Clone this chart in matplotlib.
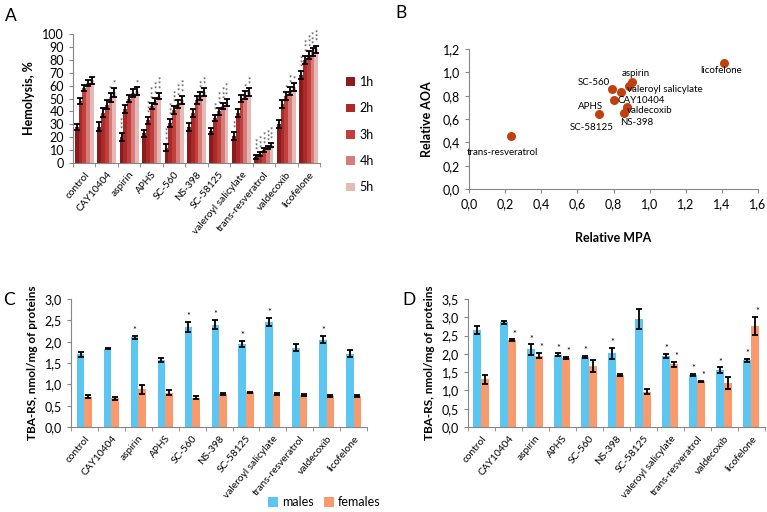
import matplotlib.pyplot as plt
import numpy as np
from matplotlib.ticker import FuncFormatter

plt.rcParams['font.family'] = ['Lato', 'DejaVu Sans']

compounds = ['control', 'CAY10404', 'aspirin', 'APHS', 'SC-560', 'NS-398', 'SC-58125',
             'valeroyl salicylate', 'trans-resveratrol', 'valdecoxib', 'licofelone']
hours = ['1h', '2h', '3h', '4h', '5h']

# panel A: hemolysis, % per hour
hem_1h = [28, 28, 20, 23, 12, 28, 25, 21, 5, 30, 68]
hem_2h = [48, 39, 42, 33, 31, 39, 35, 39, 7, 46, 80]
hem_3h = [58, 45, 50, 44, 41, 49, 40, 50, 10, 52, 84]
hem_4h = [62, 51, 54, 48, 46, 52, 44, 53, 12, 56, 86]
hem_5h = [64, 55, 56, 52, 49, 55, 47, 55, 14, 59, 88]
hem_err = [2.5, 3.5, 3, 2.5, 3, 3, 2.5, 3, 1.5, 3, 3]
hem_stars_1h = [0, 0, 3, 0, 3, 0, 0, 2, 3, 0, 3]
hem_stars_2h = [0, 0, 0, 3, 3, 0, 2, 0, 3, 0, 3]
hem_stars_3h = [0, 0, 0, 3, 3, 0, 3, 0, 3, 1, 3]
hem_stars_4h = [0, 1, 0, 3, 3, 2, 3, 1, 3, 2, 3]
hem_stars_5h = [0, 1, 1, 3, 3, 2, 3, 2, 3, 1, 3]

# panel B: relative MPA vs relative AOA
b_labels = ['trans-resveratrol', 'SC-58125', 'APHS', 'SC-560', 'CAY10404', 'NS-398',
            'valdecoxib', 'valeroyl salicylate', 'aspirin', 'licofelone']
b_mpa = [0.23, 0.72, 0.84, 0.79, 0.80, 0.86, 0.875, 0.885, 0.90, 1.41]
b_aoa = [0.455, 0.645, 0.83, 0.855, 0.76, 0.65, 0.70, 0.88, 0.92, 1.08]

# panel C: TBA-RS
c_males = [1.70, 1.84, 2.10, 1.57, 2.35, 2.40, 1.94, 2.46, 1.86, 2.05, 1.72]
c_males_err = [0.05, 0.02, 0.04, 0.04, 0.12, 0.10, 0.07, 0.09, 0.09, 0.08, 0.08]
c_females = [0.71, 0.67, 0.88, 0.80, 0.69, 0.77, 0.81, 0.77, 0.75, 0.73, 0.72]
c_females_err = [0.03, 0.04, 0.10, 0.06, 0.03, 0.02, 0.01, 0.02, 0.02, 0.02, 0.02]
c_males_sig = [0, 0, 1, 0, 1, 1, 1, 1, 0, 1, 0]
c_females_sig = [0] * 11

# panel D: TBA-RS
d_males = [2.65, 2.86, 2.12, 1.98, 1.91, 2.01, 2.95, 1.94, 1.42, 1.55, 1.82]
d_males_err = [0.12, 0.03, 0.14, 0.03, 0.03, 0.16, 0.27, 0.06, 0.03, 0.08, 0.04]
d_females = [1.30, 2.37, 1.95, 1.89, 1.66, 1.42, 0.97, 1.71, 1.25, 1.20, 2.76]
d_females_err = [0.12, 0.03, 0.07, 0.03, 0.16, 0.02, 0.08, 0.08, 0.02, 0.16, 0.25]
d_males_sig = [0, 0, 1, 1, 1, 1, 0, 1, 1, 1, 1]
d_females_sig = [0, 1, 1, 1, 0, 0, 0, 1, 1, 0, 1]

comma = FuncFormatter(lambda v, p: f'{v:.1f}'.replace('.', ','))
spine_col = '#868686'


def style_axes(ax):
    for s in ['top', 'right']:
        ax.spines[s].set_visible(False)
    for s in ['left', 'bottom']:
        ax.spines[s].set_color(spine_col)
    ax.tick_params(colors=spine_col, labelcolor='black', length=3, width=0.8)


def category_axis(ax, n):
    ax.set_xlim(-0.5, n - 0.5)
    ax.set_xticks(np.arange(n))
    ax.set_xticklabels(compounds, rotation=50, ha='right', rotation_mode='anchor', fontsize=7.3)
    ax.tick_params(axis='x', length=0, pad=5)
    ax.set_xticks(np.arange(n + 1) - 0.5, minor=True)
    ax.tick_params(axis='x', which='minor', length=3, colors=spine_col)


fig = plt.figure(figsize=(7.67, 5.12), dpi=100)

# ---------- A ----------
axA = fig.add_axes([0.0952, 0.6816, 0.322, 0.252])
style_axes(axA)
x = np.arange(len(compounds))
hem_series = [hem_1h, hem_2h, hem_3h, hem_4h, hem_5h]
hem_stars = [hem_stars_1h, hem_stars_2h, hem_stars_3h, hem_stars_4h, hem_stars_5h]
a_colors = ['#8c1c1c', '#a92a28', '#c2403c', '#d67d7b', '#e6b8b6']
w = 0.17
for i, (vals, col, lab) in enumerate(zip(hem_series, a_colors, hours)):
    xs = x + (i - 2) * w
    axA.bar(xs, vals, w, color=col, label=lab)
    axA.errorbar(xs, vals, yerr=hem_err, fmt='none', ecolor='black', elinewidth=1.3,
                 capsize=2.5, capthick=1.3)
    for xi, v, e, n in zip(xs, vals, hem_err, hem_stars[i]):
        if n:
            axA.text(xi, v + e + 0.5, '\n'.join(['*'] * n), ha='center', va='bottom',
                     fontsize=5.5, linespacing=0.55, color='#333333')
axA.set_ylim(0, 100)
axA.set_yticks(range(0, 101, 10))
axA.tick_params(axis='y', labelsize=9)
category_axis(axA, len(compounds))
axA.set_ylabel('Hemolysis, %', fontsize=9, fontweight='bold', labelpad=5)
axA.legend(loc='center left', bbox_to_anchor=(1.06, 0.22), frameon=False, fontsize=9,
           handlelength=0.7, handleheight=0.7, labelspacing=1.15, handletextpad=0.4)

# ---------- B ----------
axB = fig.add_axes([0.6115, 0.6309, 0.3768, 0.273])
style_axes(axB)
axB.scatter(b_mpa, b_aoa, s=30, color='#c0400e', zorder=3)
offsets = {
    'trans-resveratrol': (-6, -12, 'center'),
    'SC-58125': (-5, -10, 'center'),
    'APHS': (-22, -10, 'center'),
    'SC-560': (-1, 5, 'right'),
    'CAY10404': (3, 0, 'left'),
    'NS-398': (9, -7, 'center'),
    'valdecoxib': (0, -2, 'left'),
    'valeroyl salicylate': (-1, -2, 'left'),
    'aspirin': (3, 6, 'center'),
    'licofelone': (-2, -5, 'center'),
}
for lab, xv, yv in zip(b_labels, b_mpa, b_aoa):
    dx, dy, ha = offsets[lab]
    axB.annotate(lab, (xv, yv), xytext=(dx, dy), textcoords='offset points',
                 ha=ha, va='center', fontsize=7)
axB.set_xlim(0, 1.6)
axB.set_ylim(0, 1.2)
axB.set_xticks(np.arange(0, 1.61, 0.2))
axB.set_yticks(np.arange(0, 1.21, 0.2))
axB.xaxis.set_major_formatter(comma)
axB.yaxis.set_major_formatter(comma)
axB.tick_params(labelsize=9)
axB.set_xlabel('Relative MPA', fontsize=9, fontweight='bold', labelpad=16)
axB.set_ylabel('Relative AOA', fontsize=9, fontweight='bold', labelpad=7)

# ---------- C and D ----------
male_col = '#5bc6f2'
female_col = '#f89a6c'


def tba_panel(rect, males, m_err, females, f_err, m_sig, f_sig, ymax, bw):
    ax = fig.add_axes(rect)
    style_axes(ax)
    xs = np.arange(len(compounds))
    ax.bar(xs - bw / 2, males, bw, color=male_col, label='males')
    ax.bar(xs + bw / 2, females, bw, color=female_col, label='females')
    ax.errorbar(xs - bw / 2, males, yerr=m_err, fmt='none', ecolor='black',
                elinewidth=1.3, capsize=2.5, capthick=1.3)
    ax.errorbar(xs + bw / 2, females, yerr=f_err, fmt='none', ecolor='black',
                elinewidth=1.3, capsize=2.5, capthick=1.3)
    for xi, v, e, s in zip(xs - bw / 2, males, m_err, m_sig):
        if s:
            ax.text(xi, v + e + 0.02, '*', ha='center', va='bottom', fontsize=6.5)
    for xi, v, e, s in zip(xs + bw / 2, females, f_err, f_sig):
        if s:
            ax.text(xi + 0.06, v + e + 0.02, '*', ha='center', va='bottom', fontsize=6.5)
    ax.set_ylim(0, ymax)
    ax.set_yticks(np.arange(0, ymax + 0.01, 0.5))
    ax.yaxis.set_major_formatter(comma)
    ax.tick_params(axis='y', labelsize=9)
    category_axis(ax, len(compounds))
    ax.set_ylabel('TBA-RS, nmol/mg of proteins', fontsize=8.5, fontweight='bold', labelpad=5)
    return ax


axC = tba_panel([0.0926, 0.166, 0.386, 0.25], c_males, c_males_err, c_females,
                c_females_err, c_males_sig, c_females_sig, 3.0, 0.28)
axD = tba_panel([0.610, 0.166, 0.387, 0.25], d_males, d_males_err, d_females,
                d_females_err, d_males_sig, d_females_sig, 3.5, 0.3)

handles, labels = axC.get_legend_handles_labels()
fig.legend(handles, labels, loc='lower left', bbox_to_anchor=(0.335, -0.015), ncol=2,
           frameon=False, fontsize=9, handlelength=0.8, handleheight=0.8,
           handletextpad=0.3, columnspacing=0.8)

for lab, (px, py) in zip('ABCD', [(0.006, 0.985), (0.515, 0.99), (0.004, 0.43), (0.524, 0.43)]):
    fig.text(px, py, lab, fontsize=12.5, ha='left', va='top')

fig.savefig('out.png', dpi=100)
